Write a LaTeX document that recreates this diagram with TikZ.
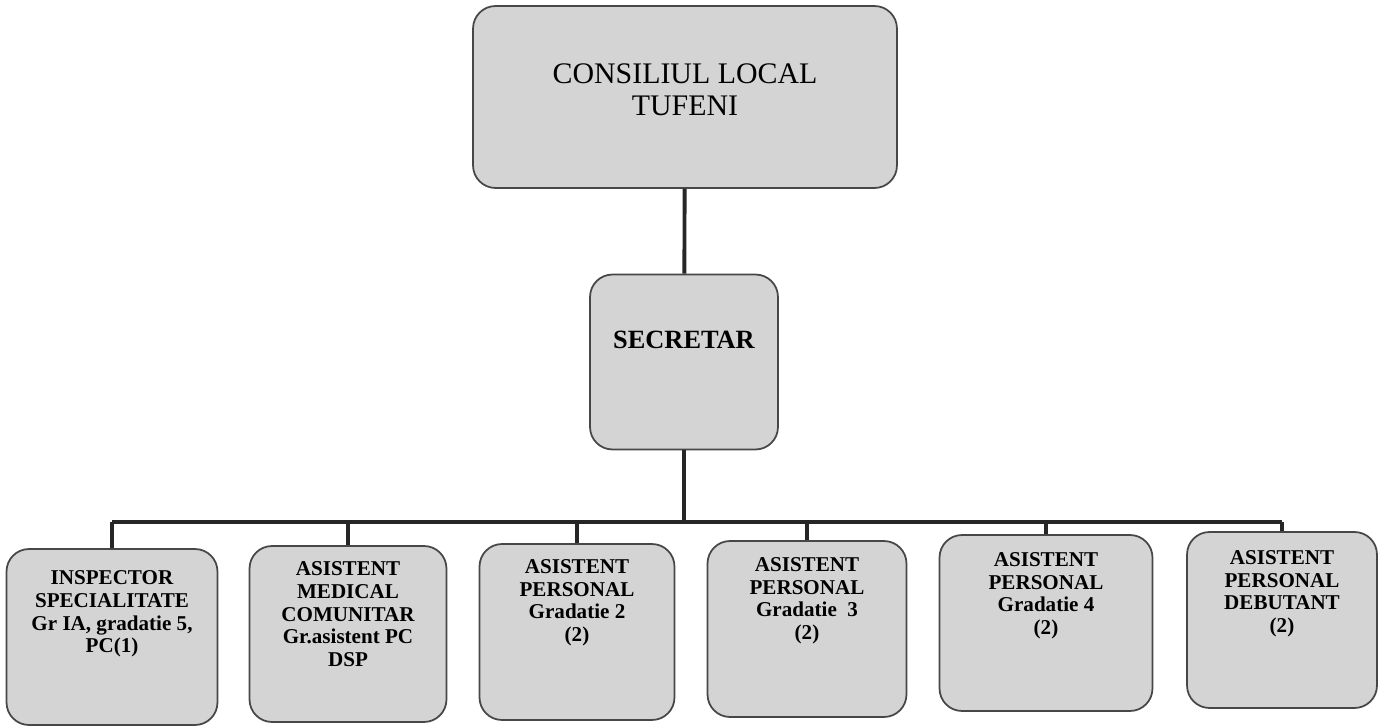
\documentclass[tikz,border=0pt]{standalone}
\usepackage{fontspec}
\setmainfont{Liberation Serif}
\usepackage{tikz}
\usetikzlibrary{positioning}
\tikzset{
	box/.style={
			draw=black!72, line width=1pt, fill=black!17,
			rounded corners=0.45cm, minimum height=3.52cm
		},
	boxtext/.style={
			align=center, font=\bfseries\fontsize{12}{12.9}\selectfont, inner sep=0pt
		},
	link/.style={draw=black!85, line width=2.2pt}
}

\begin{document}
\begin{tikzpicture}[x=0.02cm,y=-0.02cm]
		\useasboundingbox (0,0) rectangle (1383,726);
		% varf
		\node [box, minimum width=8.48cm, minimum height=3.64cm] (cl) at (685,97) {};
		\node [box, minimum width=3.76cm, minimum height=3.5cm] (sec) at (684,362) {};
		\node [boxtext, font=\fontsize{17}{18.3}\selectfont, below=1.17cm of cl.north] (tcl) {CONSILIUL LOCAL\\TUFENI};
		\node [boxtext, font=\bfseries\fontsize{15}{17}\selectfont, below=1.15cm of sec.north] (tsec) {SECRETAR};
		% compartimente
		\node [box, minimum width=4.22cm] (b1) at (112,637) {};
		\node [box, minimum width=3.94cm] (b2) at (348,634) {};
		\node [box, minimum width=3.9cm] (b3) at (577,632) {};
		\node [box, minimum width=3.98cm] (b4) at (807,629) {};
		\node [box, minimum width=4.26cm] (b5) at (1046,623) {};
		\node [box, minimum width=3.8cm] (b6) at (1282,620) {};
		\node [boxtext, below=4.5mm of b1.north] (t1) {INSPECTOR\\SPECIALITATE\\Gr IA, gradatie 5,\\PC(1)};
		\node [boxtext, below=3.3mm of b2.north] (t2) {ASISTENT\\MEDICAL\\COMUNITAR\\Gr.asistent PC\\DSP};
		\node [boxtext, below=3.2mm of b3.north] (t3) {ASISTENT\\PERSONAL\\Gradatie 2\\(2)};
		\node [boxtext, below=3.4mm of b4.north] (t4) {ASISTENT\\PERSONAL\\Gradatie\ \ 3\\(2)};
		\node [boxtext, below=3.6mm of b5.north] (t5) {ASISTENT\\PERSONAL\\Gradatie 4\\(2)};
		\node [boxtext, below=3.8mm of b6.north] (t6) {ASISTENT\\PERSONAL\\DEBUTANT\\(2)};
		% legaturi
		\coordinate (bus) at (684,522);
		\draw [link] (cl) -- (sec);
		\draw [link] (sec) -- (bus);
		\draw [link] (b1.north |- bus) -- (b6.north |- bus);
		\foreach \i in {1,...,6}
			\draw [link] (b\i.north |- bus) -- (b\i.north);
	\end{tikzpicture}
\end{document}
